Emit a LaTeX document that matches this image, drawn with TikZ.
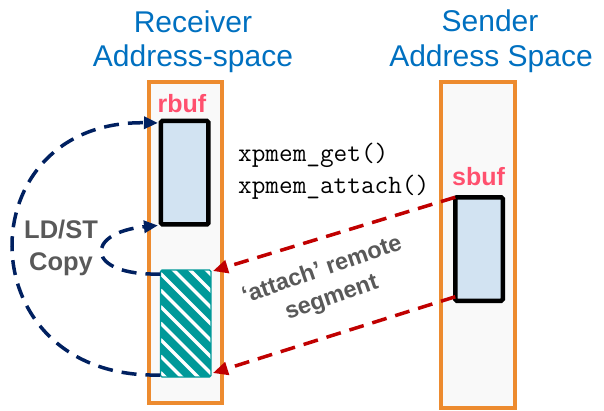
\documentclass[tikz,border=0pt]{standalone}
\usepackage{fontspec}
\setmainfont{Liberation Sans}
\usetikzlibrary{arrows.meta}

\definecolor{titleblue}{RGB}{0,112,192}
\definecolor{colorange}{RGB}{237,139,47}
\definecolor{colbg}{RGB}{249,249,249}
\definecolor{bufblue}{RGB}{210,227,242}
\definecolor{labelpink}{RGB}{255,80,110}
\definecolor{textgray}{RGB}{89,89,89}
\definecolor{navy}{RGB}{0,32,96}
\definecolor{darkred}{RGB}{192,0,0}
\definecolor{segteal}{RGB}{0,153,153}

\begin{document}
\begin{tikzpicture}[x=1pt,y=-1pt,
  column/.style={draw=colorange, fill=colbg, line width=4pt,
    inner sep=0pt, outer sep=0pt},
  buffer/.style={draw=black, fill=bufblue, line width=4.5pt,
    rounded corners=1.5pt, inner sep=0pt, outer sep=0pt,
    minimum width=47.5pt, minimum height=103.5pt},
  segment/.style={fill=segteal, rounded corners=1.5pt,
    inner sep=0pt, outer sep=0pt,
    minimum width=50.5pt, minimum height=107pt},
  stripe/.style={white, line width=3.3pt},
  title/.style={font=\fontsize{30}{35}\selectfont, text=titleblue,
    anchor=base, inner sep=0pt},
  buflabel/.style={font=\fontsize{25}{30}\selectfont\bfseries,
    text=labelpink, anchor=base, inner sep=0pt},
  graylabel/.style={font=\fontsize{25.5}{30}\selectfont\bfseries,
    text=textgray, anchor=base, inner sep=0pt},
  seglabel/.style={font=\fontsize{23.5}{29.5}\selectfont\bfseries,
    text=textgray, align=center, inner sep=0pt, rotate=19},
  call/.style={font=\fontsize{26.5}{30}\ttfamily, text=black,
    anchor=base west, inner sep=0pt},
  copyarrow/.style={draw=navy, line width=3.5pt,
    dash pattern=on 15pt off 9pt,
    -{Triangle[length=14pt,width=12pt]}},
  attacharrow/.style={draw=darkred, line width=3.5pt,
    dash pattern=on 15pt off 9pt,
    -{Triangle[length=15pt,width=13pt]}}
]
\useasboundingbox (0,0) rectangle (604,410);

% address-space columns
\node[column, minimum width=73pt, minimum height=321pt] (recv) at (185.5,242.5) {};
\node[column, minimum width=74pt, minimum height=326pt] (send) at (478,245) {};

% titles
\node[title] (recvt1) at (193,32) {Receiver};
\node[title] (recvt2) at (193,66) {Address-space};
\node[title] (sendt1) at (490,31) {Sender};
\node[title] (sendt2) at (491,66) {Address Space};

% buffers
\node[buffer] (rbuf) at (184.7,172.7) {};
\node[buffer] (sbuf) at (479,249) {};

% attached remote segment, hatched
\node[segment] (seg) at (185.7,323.5) {};
\begin{scope}
  \clip[rounded corners=1.5pt] (seg.north west) rectangle (seg.south east);
  \foreach \k in {0,...,11}
    \draw[stripe] ([yshift={46pt-\k*16.5pt}]seg.north west) -- ++(150pt,-150pt);
\end{scope}
\draw[segteal, line width=1.2pt, rounded corners=1.5pt]
  (seg.north west) rectangle (seg.south east);

\node[buflabel] (rbuflbl) at (182,112) {rbuf};
\node[buflabel] (sbuflbl) at (478.5,185) {sbuf};

% xpmem calls
\node[call] (get) at (238,161) {xpmem\_get()};
\node[call] (attach) at (238,193) {xpmem\_attach()};

% LD/ST copy label
\node[graylabel] (ldst) at (61,238) {LD/ST};
\node[graylabel] (copy) at (61,270) {Copy};

% attach label
\node[seglabel] (segl) at (327,284.5) {‘attach’ remote\\segment};

% attach arrows: sender buffer -> mapped segment
\draw[attacharrow] (sbuf.north west) -- ([xshift=2pt,yshift=-1pt]seg.north east);
\draw[attacharrow] ([yshift=4pt]sbuf.south west) -- ([xshift=2pt,yshift=4pt]seg.south east);

% copy arrows: mapped segment -> receive buffer
\draw[copyarrow] ([yshift=2pt]seg.south west)
  .. controls +(-195,5) and +(-193,-3) .. ([xshift=-3pt,yshift=-2pt]rbuf.north west);
\draw[copyarrow] ([yshift=-4pt]seg.north west)
  .. controls +(-76,2) and +(-74,7) .. ([xshift=-3pt,yshift=-1pt]rbuf.south west);
\end{tikzpicture}
\end{document}
